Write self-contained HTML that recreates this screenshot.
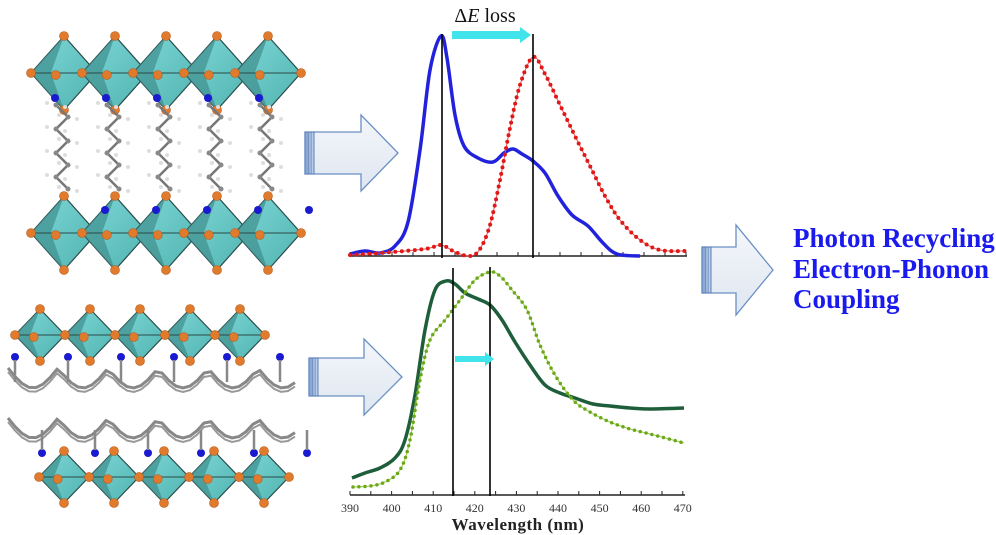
<!DOCTYPE html>
<html><head><meta charset="utf-8"><style>
html,body{margin:0;padding:0;background:#fff;}
svg{display:block;}
</style></head><body>
<svg id="s" width="996" height="535" viewBox="0 0 996 535" xmlns="http://www.w3.org/2000/svg">
<defs>
<linearGradient id="ag" x1="0" y1="0" x2="0" y2="1">
<stop offset="0" stop-color="#f4f7fb"/><stop offset="1" stop-color="#dfe6f0"/>
</linearGradient>
<linearGradient id="oc" x1="0" y1="0" x2="1" y2="1">
<stop offset="0" stop-color="#7fd8d6"/><stop offset="1" stop-color="#4fb3b1"/>
</linearGradient>
</defs>
<g id="struct"></g>
<g id="arrows"></g>
<g id="charts"></g>
<text x="485" y="22" font-family="Liberation Serif, serif" font-size="20" text-anchor="middle" fill="#111">Δ<tspan font-style="italic">E</tspan> loss</text>
<g font-family="Liberation Serif, serif" font-weight="bold" font-size="27" fill="#1a1aee">
<text x="793" y="247">Photon Recycling</text>
<text x="793" y="278">Electron-Phonon</text>
<text x="793" y="308">Coupling</text>
</g>
<text x="518" y="530" font-family="Liberation Serif, serif" font-weight="bold" font-size="17" text-anchor="middle" fill="#222" letter-spacing="0.5">Wavelength (nm)</text>
</svg>
<script>
const NS="http://www.w3.org/2000/svg";
function el(p,t,a){const e=document.createElementNS(NS,t);for(const k in a)e.setAttribute(k,a[k]);p.appendChild(e);return e;}
function smooth(pts){let d="M"+pts[0][0]+","+pts[0][1];for(let i=0;i<pts.length-1;i++){const p0=pts[i-1]||pts[i],p1=pts[i],p2=pts[i+1],p3=pts[i+2]||p2;const c1=[p1[0]+(p2[0]-p0[0])/6,p1[1]+(p2[1]-p0[1])/6],c2=[p2[0]-(p3[0]-p1[0])/6,p2[1]-(p3[1]-p1[1])/6];d+=" C"+c1[0].toFixed(1)+","+c1[1].toFixed(1)+" "+c2[0].toFixed(1)+","+c2[1].toFixed(1)+" "+p2[0]+","+p2[1];}return d;}
const S=document.getElementById("struct"),A=document.getElementById("arrows"),C=document.getElementById("charts");
function row(cx0,step,n,cy,hw,hh){
 for(let i=0;i<n;i++){const cx=cx0+i*step;
  el(S,"polygon",{points:`${cx},${cy-hh} ${cx+hw},${cy} ${cx},${cy+hh} ${cx-hw},${cy}`,fill:"url(#oc)",stroke:"#2a4a4a","stroke-width":1.2});
  el(S,"polygon",{points:`${cx},${cy-hh} ${cx-hw},${cy} ${cx},${cy+hh} ${cx-hw*0.4},${cy}`,fill:"#3f8f8d",opacity:0.7});
  el(S,"line",{x1:cx-hw,y1:cy,x2:cx+hw,y2:cy,stroke:"#2a4a4a","stroke-width":1});
  for(const [x,y] of [[cx,cy-hh],[cx,cy+hh],[cx-hw,cy],[cx+hw,cy],[cx-hw*0.25,cy+2]])
   el(S,"circle",{cx:x,cy:y,r:4.5,fill:"#e07a2c",stroke:"#b85a1a","stroke-width":0.6});
 }}
row(64,51,5,73,33,37);
row(64,51,5,233,33,37);
row(40,50,5,335,25,26);
row(64,50,5,477,25,26);
for(let i=0;i<5;i++){const x=60+i*51;let pts=[];for(let y=105;y<=200;y+=12){pts.push([x+((y/12|0)%2?8:-4),y]);}
 el(S,"polyline",{points:pts.map(p=>p.join(",")).join(" "),fill:"none",stroke:"#777","stroke-width":2.5});
 pts.forEach(p=>{el(S,"circle",{cx:p[0],cy:p[1],r:2.5,fill:"#888"});el(S,"circle",{cx:p[0]+9,cy:p[1]+2,r:2,fill:"#ddd"});el(S,"circle",{cx:p[0]-9,cy:p[1]-2,r:2,fill:"#ddd"});});
 el(S,"circle",{cx:x-5,cy:98,r:4,fill:"#1a1ad0"});el(S,"circle",{cx:x+45,cy:210,r:4,fill:"#1a1ad0"});}
function zig(y0,amp,dir){let pts=[];for(let x=8;x<=300;x+=7){pts.push([x,y0+dir*amp*Math.abs(Math.sin((x-8)/50*Math.PI))]);}
 el(S,"polyline",{points:pts.map(p=>p.join(",")).join(" "),fill:"none",stroke:"#888","stroke-width":3});
 el(S,"polyline",{points:pts.map(p=>[p[0],p[1]+4*dir].join(",")).join(" "),fill:"none",stroke:"#999","stroke-width":2});}
zig(368,20,1);zig(418,20,1);
for(let i=0;i<6;i++){el(S,"circle",{cx:15+i*53,cy:357,r:4,fill:"#1a1ad0"});el(S,"circle",{cx:42+i*53,cy:453,r:4,fill:"#1a1ad0"});
 el(S,"line",{x1:15+i*53,y1:360,x2:15+i*53,y2:382,stroke:"#888","stroke-width":2.5});el(S,"line",{x1:42+i*53,y1:430,x2:42+i*53,y2:450,stroke:"#888","stroke-width":2.5});}
function arrow(x0,xb,xt,cy,bh,hh){
 el(A,"polygon",{points:`${x0},${cy-bh} ${xb},${cy-bh} ${xb},${cy-hh} ${xt},${cy} ${xb},${cy+hh} ${xb},${cy+bh} ${x0},${cy+bh}`,fill:"url(#ag)",stroke:"#6a8fc4","stroke-width":1.3});
 el(A,"rect",{x:x0,y:cy-bh,width:4,height:bh*2,fill:"#8aa9d6",stroke:"#5a7fb8","stroke-width":1});
 el(A,"rect",{x:x0+6,y:cy-bh,width:3,height:bh*2,fill:"#b9cde8",stroke:"#5a7fb8","stroke-width":1});}
arrow(305,361,398,153,21,38);
arrow(309,364,402,377,19,38);
arrow(702,736,773,270,23,45);
el(C,"line",{x1:350,y1:256,x2:687,y2:256,stroke:"#222","stroke-width":1.5});
for(let i=0;i<=16;i++){const x=350+i*21;el(C,"line",{x1:x,y1:256,x2:x,y2:252,stroke:"#222","stroke-width":1});}
const blue=[[350,254],[365,251],[380,253],[395,246],[408,222],[420,150],[430,70],[441,36],[447,58],[455,115],[464,146],[478,158],[493,162],[504,153],[513,149],[522,154],[533,161],[545,173],[558,196],[572,215],[588,226],[603,243],[617,254],[640,256]];
el(C,"path",{d:smooth(blue),fill:"none",stroke:"#2222dd","stroke-width":3.5});
const red=[[350,255],[380,253],[425,249],[441,245],[455,252],[470,256],[480,249],[490,225],[500,180],[510,128],[520,85],[533,57],[545,74],[560,105],[575,136],[590,166],[605,196],[620,220],[640,240],[660,250],[686,251]];
el(C,"path",{d:smooth(red),fill:"none",stroke:"#f05050","stroke-width":1});
el(C,"path",{d:smooth(red),fill:"none",stroke:"#e01818","stroke-width":4,"stroke-dasharray":"0 6.5","stroke-linecap":"round"});
el(C,"line",{x1:442,y1:34,x2:442,y2:258,stroke:"#000","stroke-width":1.6});
el(C,"line",{x1:533,y1:34,x2:533,y2:258,stroke:"#000","stroke-width":1.6});
el(C,"polygon",{points:"452,31 520,31 520,27 531,35 520,43 520,39 452,39",fill:"#40e4ea"});
el(C,"line",{x1:350,y1:495,x2:685,y2:495,stroke:"#222","stroke-width":1.5});
for(let i=0;i<=16;i++){const x=350+i*20.8;el(C,"line",{x1:x,y1:495,x2:x,y2:491,stroke:"#222","stroke-width":1});
 if(i%2==0)el(C,"text",{x:x,y:512,"font-family":"Liberation Serif, serif","font-size":12,"text-anchor":"middle",fill:"#333"}).textContent=390+i*5;}
const dg=[[352,478],[365,473],[380,468],[395,458],[405,440],[415,395],[425,330],[435,290],[446,281],[455,284],[465,293],[478,299],[490,305],[502,320],[515,342],[530,365],[545,385],[560,393],[575,398],[593,404],[610,406],[630,408],[650,409],[684,408]];
el(C,"path",{d:smooth(dg),fill:"none",stroke:"#1e5e3a","stroke-width":3.5});
const lg=[[353,487],[370,486],[385,482],[400,470],[410,440],[420,380],[430,340],[445,320],[460,300],[475,280],[490,272],[500,276],[512,290],[527,310],[540,345],[555,375],[573,400],[590,412],[610,422],[630,429],[650,434],[684,443]];
el(C,"path",{d:smooth(lg),fill:"none",stroke:"#9ccc40","stroke-width":1});
el(C,"path",{d:smooth(lg),fill:"none",stroke:"#6aa81a","stroke-width":3.5,"stroke-dasharray":"0 6","stroke-linecap":"round"});
el(C,"line",{x1:453,y1:268,x2:453,y2:496,stroke:"#000","stroke-width":1.6});
el(C,"line",{x1:490,y1:267,x2:490,y2:496,stroke:"#000","stroke-width":1.6});
el(C,"polygon",{points:"455,356 485,356 485,352 494,359 485,366 485,362 455,362",fill:"#40e4ea"});
</script>
</body></html>
